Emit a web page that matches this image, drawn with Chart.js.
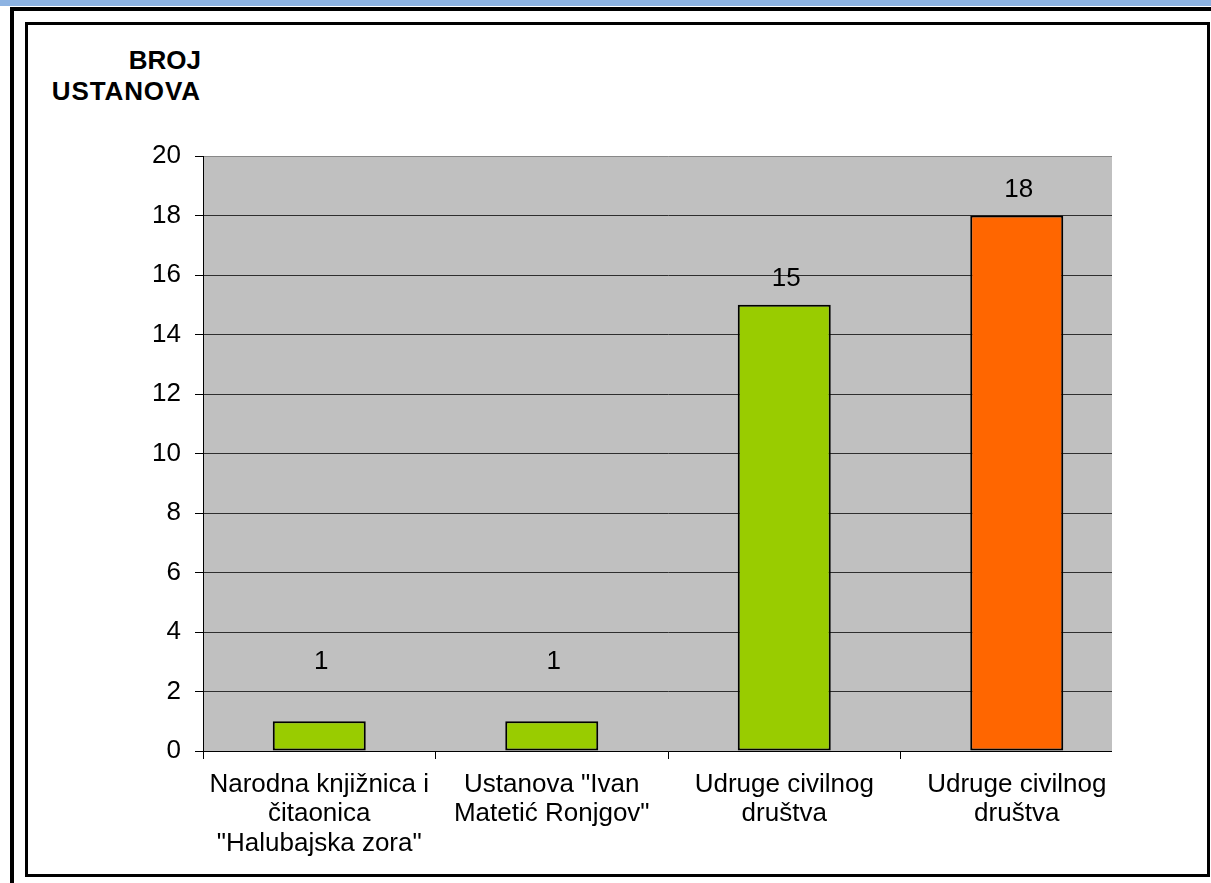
<!DOCTYPE html>
<html>
<head>
<meta charset="utf-8">
<script src="https://cdn.jsdelivr.net/npm/chart.js@4.4.1/dist/chart.umd.min.js"></script>
<style>
  html, body { margin: 0; padding: 0; background: #fff; width: 1211px; height: 883px; overflow: hidden; }
  .strip { position: absolute; left: 0; top: 0; width: 1211px; height: 6px; background: #8db3e2; }
  .outer { position: absolute; left: 10px; top: 7px; width: 1300px; height: 1000px; border-top: 4px solid #000; border-left: 4px solid #000; }
  .inner { position: absolute; left: 25px; top: 22px; width: 1179px; height: 849px; border: 3px solid #000; }
  .ytitle { position: absolute; left: 0; top: 45px; width: 201px; text-align: right;
            font: bold 26px "Liberation Sans", Arial, sans-serif; line-height: 31px; color: #000; }
  .ytitle span { letter-spacing: 0.9px; }
  canvas { position: absolute; left: 0; top: 0; }
</style>
</head>
<body>
<div class="strip"></div>
<div class="outer"></div>
<div class="inner"></div>
<div class="ytitle">BROJ<br><span>USTANOVA</span></div>
<canvas id="myChart" width="1211" height="883"></canvas>
<script>
const categories = [
  ['Narodna knjižnica i', 'čitaonica', '"Halubajska zora"'],
  ['Ustanova "Ivan', 'Matetić Ronjgov"'],
  ['Udruge civilnog', 'društva'],
  ['Udruge civilnog', 'društva']
];
const counts = [1, 1, 15, 18];
const yTicks = [0, 2, 4, 6, 8, 10, 12, 14, 16, 18, 20];

const FONT = '"Liberation Sans", Arial, sans-serif';
const PLOT_RIGHT = 1112; // the original plot is cut off before the last category ends

const plotBackground = {
  id: 'plotBackground',
  beforeDraw(chart) {
    const { ctx, chartArea: a } = chart;
    ctx.save();
    ctx.fillStyle = '#c0c0c0';
    ctx.fillRect(a.left, a.top, PLOT_RIGHT - a.left, a.bottom - a.top);
    ctx.restore();
  }
};

// white-out the part of the axis past the cut
const plotCut = {
  id: 'plotCut',
  afterDraw(chart) {
    const { ctx, chartArea: a } = chart;
    ctx.save();
    ctx.fillStyle = '#fff';
    ctx.fillRect(PLOT_RIGHT, a.top - 3, a.right - PLOT_RIGHT + 3, a.bottom - a.top + 14);
    ctx.restore();
  }
};

// value labels above the bars
const barLabels = {
  id: 'barLabels',
  afterDatasetsDraw(chart) {
    const { ctx } = chart;
    const y = chart.scales.y;
    const meta = chart.getDatasetMeta(0);
    ctx.save();
    ctx.font = '26px ' + FONT;
    ctx.fillStyle = '#000';
    ctx.textAlign = 'center';
    ctx.textBaseline = 'middle';
    meta.data.forEach((bar, i) => {
      const ty = Math.min(bar.y - 26, y.getPixelForValue(3.0));
      ctx.fillText(String(counts[i]), bar.x + 2, ty);
    });
    ctx.restore();
  }
};

new Chart(document.getElementById('myChart').getContext('2d'), {
  type: 'bar',
  data: {
    labels: categories,
    datasets: [{
      data: counts,
      backgroundColor: ['#99cc00', '#99cc00', '#99cc00', '#ff6600'],
      borderColor: '#000',
      borderWidth: 2,
      borderSkipped: false,
      categoryPercentage: 1,
      barPercentage: 0.4
    }]
  },
  options: {
    responsive: false,
    animation: false,
    layout: { padding: { left: 0, top: 156, right: 78, bottom: 0 } },
    plugins: { legend: { display: false }, tooltip: { enabled: false } },
    scales: {
      x: {
        afterFit: s => { s.height = 132; },
        border: { color: '#000', width: 1 },
        grid: { offset: true, drawOnChartArea: false, drawTicks: true, tickLength: 8, color: '#000' },
        ticks: {
          color: '#000',
          font: { family: FONT, size: 26, lineHeight: 1.13 },
          padding: 11,
          maxRotation: 0,
          autoSkip: false
        }
      },
      y: {
        min: 0,
        max: 20,
        afterFit: s => { s.width = 203; },
        afterBuildTicks: s => { s.ticks = yTicks.map(v => ({ value: v })); },
        border: { color: '#000', width: 1 },
        grid: {
          color: c => (c.tick && c.tick.value === 20) ? '#888' : '#2e2e2e',
          tickColor: '#000',
          tickLength: 8
        },
        ticks: {
          color: '#000',
          font: { family: FONT, size: 26 },
          padding: 14
        }
      }
    }
  },
  plugins: [plotBackground, barLabels, plotCut]
});
</script>
</body>
</html>
